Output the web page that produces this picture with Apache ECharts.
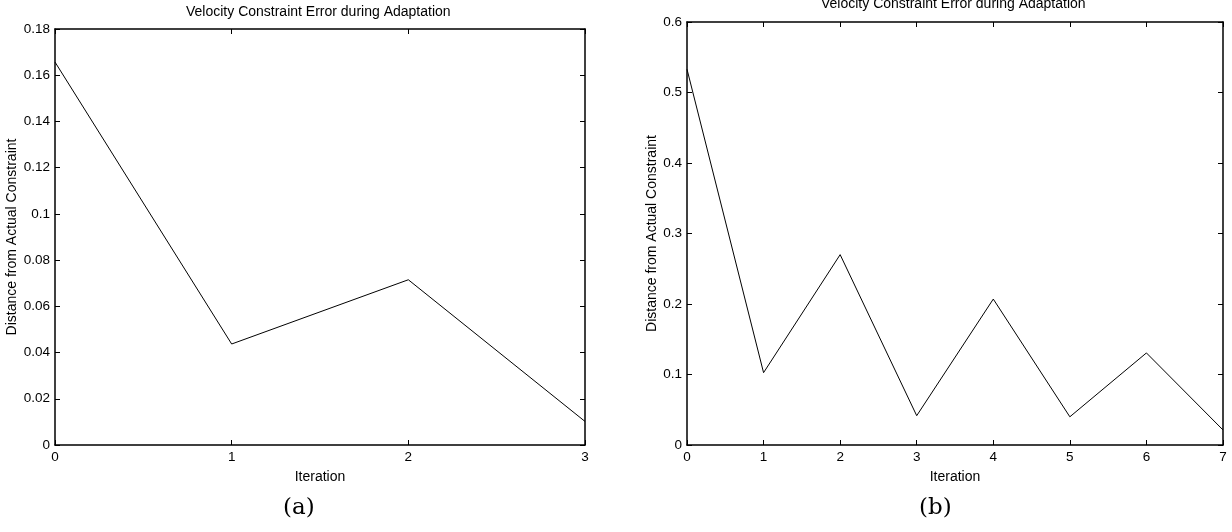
<!DOCTYPE html>
<html>
<head>
<meta charset="utf-8">
<script src="https://cdn.jsdelivr.net/npm/echarts@6/dist/echarts.min.js"></script>
<style>
  html, body { margin: 0; padding: 0; background: #fff; }
  #chart { width: 1232px; height: 532px; }
</style>
</head>
<body>
<div id="chart"></div>
<script>
// values
var iterA = [0, 1, 2, 3];
var errA = [0.1657, 0.0437, 0.0715, 0.0102];

var iterB = [0, 1, 2, 3, 4, 5, 6, 7];
var errB = [0.533, 0.1026, 0.270, 0.0416, 0.207, 0.040, 0.1306, 0.0213];

var titleText = 'Velocity Constraint Error during Adaptation';
var xName = 'Iteration';
var yName = 'Distance from Actual Constraint';
var panelLabels = ['(a)', '(b)'];

var font = '"Liberation Sans", Arial, Helvetica, sans-serif';
var black = '#000';

function pairs(xs, ys) {
    return xs.map(function (x, i) { return [x, ys[i]]; });
}

function xAxisFor(gridIndex, max, pos) {
    var main = pos === 'bottom';
    return {
        type: 'value',
        gridIndex: gridIndex,
        position: pos,
        min: 0,
        max: max,
        interval: 1,
        name: main ? xName : '',
        nameLocation: 'middle',
        nameGap: 25,
        nameTextStyle: { color: black, fontFamily: font, fontSize: 14 },
        axisLine: { show: true, onZero: false, lineStyle: { color: black, width: 1.5 } },
        axisTick: { show: true, inside: true, length: 5, lineStyle: { color: black, width: 1 } },
        axisLabel: { show: main, color: black, fontFamily: font, fontSize: 13.5, margin: 5 },
        splitLine: { show: false }
    };
}

function yAxisFor(gridIndex, max, interval, pos, gap) {
    var main = pos === 'left';
    return {
        type: 'value',
        gridIndex: gridIndex,
        position: pos,
        min: 0,
        max: max,
        interval: interval,
        name: main ? yName : '',
        nameLocation: 'middle',
        nameGap: gap,
        nameRotate: 90,
        nameTextStyle: { color: black, fontFamily: font, fontSize: 14 },
        axisLine: { show: true, onZero: false, lineStyle: { color: black, width: 1.5 } },
        axisTick: { show: true, inside: true, length: 5, lineStyle: { color: black, width: 1 } },
        axisLabel: { show: main, color: black, fontFamily: font, fontSize: 13.5, margin: 5 },
        splitLine: { show: false }
    };
}

var myChart = echarts.init(document.getElementById('chart'), null, { renderer: 'canvas' });
myChart.setOption({
    animation: false,
    backgroundColor: '#fff',
    grid: [
        { left: 55, right: 647, top: 29, bottom: 87 },
        { left: 687, right: 9, top: 22, bottom: 87 }
    ],
    xAxis: [
        xAxisFor(0, 3, 'bottom'),
        xAxisFor(0, 3, 'top'),
        xAxisFor(1, 7, 'bottom'),
        xAxisFor(1, 7, 'top')
    ],
    yAxis: [
        yAxisFor(0, 0.18, 0.02, 'left', 36),
        yAxisFor(0, 0.18, 0.02, 'right', 0),
        yAxisFor(1, 0.6, 0.1, 'left', 28),
        yAxisFor(1, 0.6, 0.1, 'right', 0)
    ],
    graphic: [
        { type: 'text', left: 320 - 134, top: 5,
          style: { text: titleText, fill: black, font: '14px ' + font } },
        { type: 'text', left: 955 - 134, top: -3,
          style: { text: titleText, fill: black, font: '14px ' + font } },
        { type: 'text', left: 300 - 17, top: 497,
          style: { text: panelLabels[0], fill: black, font: '23px "DejaVu Serif", "Liberation Serif", serif' } },
        { type: 'text', left: 936 - 17, top: 497,
          style: { text: panelLabels[1], fill: black, font: '23px "DejaVu Serif", "Liberation Serif", serif' } }
    ],
    series: [
        {
            type: 'line',
            xAxisIndex: 0,
            yAxisIndex: 0,
            data: pairs(iterA, errA),
            symbol: 'none',
            lineStyle: { color: black, width: 1 }
        },
        {
            type: 'line',
            xAxisIndex: 2,
            yAxisIndex: 2,
            data: pairs(iterB, errB),
            symbol: 'none',
            lineStyle: { color: black, width: 1 }
        }
    ]
});
</script>
</body>
</html>
